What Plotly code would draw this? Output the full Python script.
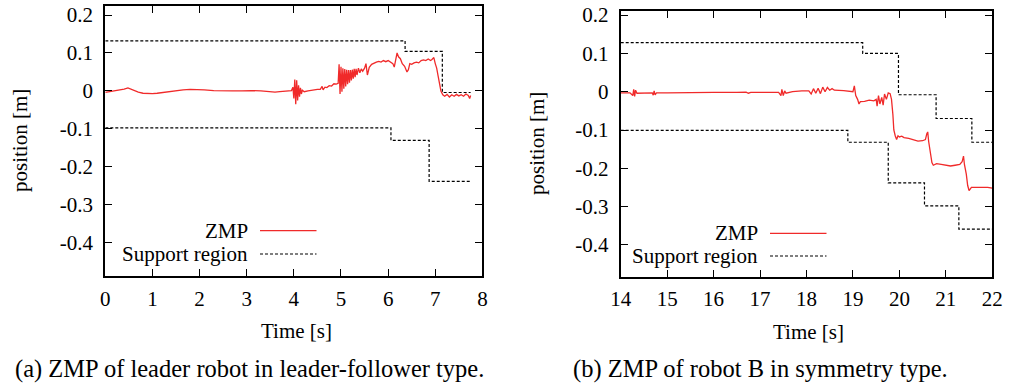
import plotly.graph_objects as go

# ---------------- data ----------------
# (a) leader robot, leader-follower type
t_a = [0.00, 0.10, 0.20, 0.30, 0.40, 0.48, 0.52, 0.60, 0.70, 0.80, 0.90, 1.00, 1.10, 1.20, 1.35,
       1.50, 1.65, 1.80, 1.95, 2.10, 2.30, 2.50, 2.70, 2.90, 3.10, 3.30, 3.45, 3.60, 3.70, 3.85,
       3.95, 3.98, 4.00, 4.02, 4.04, 4.06, 4.08, 4.10, 4.12, 4.14, 4.16, 4.18, 4.22, 4.30, 4.40,
       4.50, 4.56, 4.60, 4.62, 4.66, 4.70, 4.75, 4.80, 4.85, 4.90, 4.94, 4.96, 4.98, 5.00, 5.02,
       5.04, 5.06, 5.08, 5.10, 5.12, 5.14, 5.16, 5.18, 5.20, 5.22, 5.24, 5.26, 5.28, 5.30, 5.32,
       5.34, 5.37, 5.40, 5.43, 5.46, 5.50, 5.53, 5.56, 5.60, 5.65, 5.70, 5.75, 5.80, 5.85, 5.90,
       5.95, 6.00, 6.05, 6.10, 6.13, 6.16, 6.19, 6.22, 6.26, 6.30, 6.35, 6.40, 6.43, 6.46, 6.50,
       6.55, 6.60, 6.65, 6.70, 6.75, 6.80, 6.85, 6.90, 6.93, 6.97, 7.00, 7.03, 7.06, 7.09, 7.12,
       7.16, 7.20, 7.25, 7.30, 7.35, 7.40, 7.45, 7.50, 7.55, 7.60, 7.65, 7.70, 7.73, 7.75]
zmp_a = [-0.004, -0.002, 0.000, 0.003, 0.005, 0.008, 0.006, 0.001, -0.003, -0.006, -0.007, -0.007,
         -0.006, -0.004, -0.001, 0.001, 0.003, 0.004, 0.004, 0.003, 0.001, 0.000, 0.000, 0.000,
         0.001, 0.000, -0.002, -0.003, -0.002, 0.000, 0.001, 0.010, -0.020, 0.030, -0.035, 0.028,
         -0.025, 0.015, -0.015, 0.008, -0.008, 0.002, -0.002, 0.000, 0.003, 0.004, 0.004, 0.012,
         0.003, 0.010, 0.009, 0.014, 0.013, 0.019, 0.018, 0.020, 0.070, -0.008, 0.064, -0.002,
         0.060, 0.006, 0.058, 0.012, 0.056, 0.018, 0.055, 0.022, 0.055, 0.028, 0.056, 0.032,
         0.058, 0.036, 0.058, 0.042, 0.060, 0.048, 0.058, 0.052, 0.060, 0.072, 0.042, 0.062,
         0.070, 0.074, 0.076, 0.078, 0.076, 0.080, 0.077, 0.080, 0.076, 0.072, 0.063, 0.080,
         0.100, 0.090, 0.085, 0.072, 0.065, 0.050, 0.056, 0.072, 0.070, 0.074, 0.076, 0.074,
         0.080, 0.082, 0.080, 0.084, 0.080, 0.083, 0.088, 0.072, 0.060, 0.040, 0.015, 0.000,
         -0.010, -0.014, -0.009, -0.016, -0.010, -0.014, -0.009, -0.013, -0.010, -0.014, -0.008,
         -0.012, -0.020, -0.012]
sup_a_up_t = [0.00, 6.36, 7.15, 7.75]
sup_a_up = [0.132, 0.104, -0.004, -0.004]
sup_a_lo_t = [0.00, 6.06, 6.87, 7.75]
sup_a_lo = [-0.097, -0.130, -0.238, -0.238]

# (b) robot B, symmetry type
t_b = [14.00, 14.20, 14.26, 14.28, 14.30, 14.32, 14.35, 14.50, 14.68, 14.70, 14.72, 14.74, 14.77,
       15.00, 15.50, 16.00, 16.50, 16.70, 16.75, 16.80, 17.00, 17.40, 17.45, 17.47, 17.50, 17.53,
       17.56, 17.70, 17.90, 18.05, 18.10, 18.15, 18.20, 18.25, 18.30, 18.35, 18.40, 18.45, 18.50,
       18.55, 18.60, 18.80, 19.00, 19.03, 19.06, 19.10, 19.13, 19.16, 19.25, 19.35, 19.45, 19.50,
       19.52, 19.55, 19.58, 19.62, 19.65, 19.68, 19.72, 19.76, 19.80, 19.83, 19.86, 19.88, 19.91,
       19.94, 19.97, 20.00, 20.05, 20.10, 20.20, 20.30, 20.40, 20.50, 20.56, 20.59, 20.61, 20.63,
       20.66, 20.70, 20.73, 20.80, 20.90, 21.00, 21.10, 21.20, 21.30, 21.35, 21.38, 21.40, 21.44,
       21.47, 21.50, 21.55, 21.65, 21.80, 21.90, 22.00]
zmp_b = [-0.003, -0.003, -0.010, 0.006, -0.012, 0.004, -0.004, -0.003, -0.003, -0.009, 0.002,
         -0.008, -0.003, -0.003, -0.002, -0.002, -0.002, -0.001, -0.004, -0.002, -0.002, -0.002,
         -0.010, 0.006, -0.010, 0.002, -0.004, 0.000, 0.002, 0.002, -0.006, 0.008, -0.004, 0.009,
         -0.005, 0.012, 0.000, 0.011, 0.004, 0.008, 0.004, 0.003, 0.000, 0.015, -0.010, -0.020,
         -0.032, -0.026, -0.025, -0.022, -0.024, -0.020, -0.038, -0.010, -0.032, -0.015, -0.035,
         -0.006, -0.020, -0.003, -0.005, -0.020, -0.060, -0.100, -0.115, -0.125, -0.115, -0.118,
         -0.116, -0.120, -0.122, -0.126, -0.129, -0.128, -0.125, -0.110, -0.105, -0.130, -0.150,
         -0.185, -0.192, -0.188, -0.190, -0.192, -0.194, -0.192, -0.190, -0.183, -0.168, -0.190,
         -0.215, -0.245, -0.258, -0.250, -0.250, -0.251, -0.250, -0.252]
sup_b_up_t = [14.00, 19.21, 19.98, 20.79, 21.56, 22.00]
sup_b_up = [0.128, 0.100, -0.008, -0.070, -0.132, -0.132]
sup_b_lo_t = [14.00, 18.89, 19.76, 20.54, 21.28, 22.00]
sup_b_lo = [-0.101, -0.132, -0.238, -0.298, -0.359, -0.359]

y_ticks = [0.2, 0.1, 0.0, -0.1, -0.2, -0.3, -0.4]
y_tick_text = ["0.2", "0.1", "0", "-0.1", "-0.2", "-0.3", "-0.4"]
x_ticks_a = [0, 1, 2, 3, 4, 5, 6, 7, 8]
x_ticks_b = [14, 15, 16, 17, 18, 19, 20, 21, 22]

caption_a = "(a) ZMP of leader robot in leader-follower type."
caption_b = "(b) ZMP of robot B in symmetry type."
legend_names = ["ZMP", "Support region"]

# ---------------- figure ----------------
W, H = 1010, 389
FONT = "'Liberation Serif', 'Times New Roman', Times, 'DejaVu Serif', serif"
RED = "#f02a2a"

def px(x):
    return x / W

def py(y):
    return (H - y) / H

fig = go.Figure()
dash = "3px,2px"
for xs, ys, xa, ya in [(sup_a_up_t, sup_a_up, "x", "y"), (sup_a_lo_t, sup_a_lo, "x", "y"),
                       (sup_b_up_t, sup_b_up, "x2", "y2"), (sup_b_lo_t, sup_b_lo, "x2", "y2")]:
    fig.add_trace(go.Scatter(x=xs, y=ys, mode="lines", line=dict(color="black", width=1.2, dash=dash, shape="hv"),
                             xaxis=xa, yaxis=ya, showlegend=False, hoverinfo="skip"))
fig.add_trace(go.Scatter(x=t_a, y=zmp_a, mode="lines", line=dict(color=RED, width=1.3),
                         xaxis="x", yaxis="y", showlegend=False))
fig.add_trace(go.Scatter(x=t_b, y=zmp_b, mode="lines", line=dict(color=RED, width=1.3),
                         xaxis="x2", yaxis="y2", showlegend=False))

axis_common = dict(showline=True, linecolor="black", linewidth=2, mirror="ticks", ticks="inside",
                   ticklen=7, tickwidth=1.4, tickcolor="black", showgrid=False, zeroline=False,
                   automargin=False,
                   tickfont=dict(family=FONT, size=21, color="black"))

fig.update_layout(
    width=W, height=H, margin=dict(l=0, r=0, t=0, b=0, pad=0, autoexpand=False),
    paper_bgcolor="white", plot_bgcolor="white", showlegend=False,
    font=dict(family=FONT),
    xaxis=dict(domain=[px(105.3), px(482.4)], range=[0, 8], anchor="y", tickvals=x_ticks_a,
               ticklabelstandoff=2, **axis_common),
    yaxis=dict(domain=[py(276.3), py(5.5)], range=[-0.488, 0.225], anchor="x", tickvals=y_ticks,
               ticktext=y_tick_text, ticklabelstandoff=6, **axis_common),
    xaxis2=dict(domain=[px(620.7), px(992.3)], range=[14, 22], anchor="y2", tickvals=x_ticks_b,
                ticklabelstandoff=2, **axis_common),
    yaxis2=dict(domain=[py(276.7), py(11)], range=[-0.483, 0.2107], anchor="x2", tickvals=y_ticks,
                ticktext=y_tick_text, ticklabelstandoff=6, **axis_common),
)

ann = []
def text(x, y, s, size=21, xanchor="center", angle=0):
    ann.append(dict(x=px(x), y=py(y), xref="paper", yref="paper", text=s, showarrow=False,
                    xanchor=xanchor, yanchor="middle", textangle=angle,
                    font=dict(family=FONT, size=size, color="black")))

text(296, 331, "Time [s]")
text(808, 332, "Time [s]")
text(20, 141, "position [m]", angle=-90)
text(537, 144, "position [m]", angle=-90)
text(249, 369, caption_a, size=24.5)
text(760, 369, caption_b, size=24.5)

# legends (gnuplot style: text then sample line)
shapes = []
for (tx, lx0, lx1, y1, y2) in [(250, 260, 316.5, 230.7, 254), (760, 770, 826.5, 233.3, 256)]:
    text(tx, y1, legend_names[0], xanchor="right")
    text(tx, y2, legend_names[1], xanchor="right")
    shapes.append(dict(type="line", xref="paper", yref="paper", x0=px(lx0), x1=px(lx1), y0=py(y1), y1=py(y1),
                       line=dict(color=RED, width=1.3)))
    shapes.append(dict(type="line", xref="paper", yref="paper", x0=px(lx0), x1=px(lx1), y0=py(y2), y1=py(y2),
                       line=dict(color="black", width=1.2, dash=dash)))

fig.update_layout(annotations=ann, shapes=shapes)
fig.write_html("out.html")
